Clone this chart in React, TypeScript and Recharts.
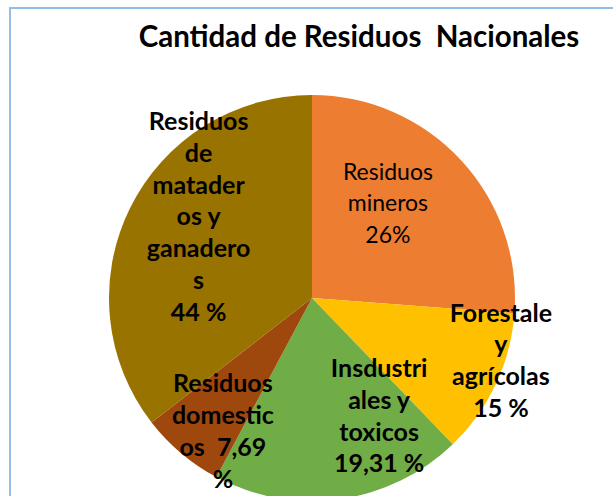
import React from "react";
import { PieChart, Pie, Cell } from "recharts";

const categories = [
  "Residuos mineros",
  "Forestale y agrícolas",
  "Insdustriales y toxicos",
  "Residuos domesticos",
  "Residuos de mataderos y ganaderos",
];
const values = [26.2, 11.6, 20.0, 6.7, 35.5];
const labelLines = [
  ["Residuos", "mineros", "26%"],
  ["Forestale", "y", "agrícolas", "15 %"],
  ["Insdustri", "ales y", "toxicos", "19,31 %"],
  ["Residuos", "domestic", "os  7,69", "%"],
  ["Residuos", "de", "matader", "os y", "ganadero", "s", "44 %"],
];
const colors = ["#ED7D31", "#FFC000", "#70AD47", "#9E480E", "#997300"];
const labelBold = [false, true, true, true, true];
const labelRadius = [0.567, 0.995, 0.706, 0.825, 0.663];
const labelShift = [-5.9, -4.5, -20, -8, 6.5];

const FONT = "Lato, 'Liberation Sans', sans-serif";
const PITCH = 31.8;

const data = categories.map((name, i) => ({ name, value: values[i] }));

const renderLabel = (props: any) => {
  const { cx, cy, midAngle, outerRadius, index } = props;
  const clock = ((90 - midAngle + labelShift[index]) * Math.PI) / 180;
  const r = outerRadius * labelRadius[index];
  const x = cx + r * Math.sin(clock);
  const yMid = cy - r * Math.cos(clock);
  const lines = labelLines[index];
  const y0 = yMid - ((lines.length - 1) * PITCH) / 2;
  const bold = labelBold[index];
  return (
    <text
      x={x}
      y={y0}
      textAnchor="middle"
      fill="#000"
      fontFamily={FONT}
      fontSize={bold ? 25 : 23}
      fontWeight={bold ? 700 : 400}
    >
      {lines.map((l, j) => (
        <tspan key={j} x={x} y={y0 + j * PITCH} style={{ whiteSpace: "pre" }}>
          {l}
        </tspan>
      ))}
    </text>
  );
};

export default function App() {
  return (
    <div
      style={{
        position: "fixed",
        left: 0,
        top: 0,
        width: 613,
        height: 496,
        overflow: "hidden",
        background: "#fff",
      }}
    >
      <div
        style={{
          position: "absolute",
          left: 9,
          top: 7,
          width: 700,
          height: 600,
          borderTop: "2px solid #95BDE6",
          borderLeft: "2px solid #95BDE6",
        }}
      />
      <div style={{ position: "absolute", left: 0, top: 0 }}>
        <PieChart
          width={613}
          height={496}
          margin={{ top: 0, right: 0, bottom: 0, left: 0 }}
        >
          <text
            x={359}
            y={47}
            textAnchor="middle"
            fontFamily={FONT}
            fontSize={29.5}
            fontWeight={700}
            fill="#000"
            style={{ whiteSpace: "pre" }}
          >
            Cantidad de Residuos  Nacionales
          </text>
          <Pie
            data={data}
            dataKey="value"
            nameKey="name"
            cx={312}
            cy={298}
            outerRadius={203}
            startAngle={90}
            endAngle={-270}
            stroke="none"
            label={renderLabel}
            labelLine={false}
            isAnimationActive={false}
          >
            {data.map((d, i) => (
              <Cell key={d.name} fill={colors[i]} />
            ))}
          </Pie>
        </PieChart>
      </div>
    </div>
  );
}
